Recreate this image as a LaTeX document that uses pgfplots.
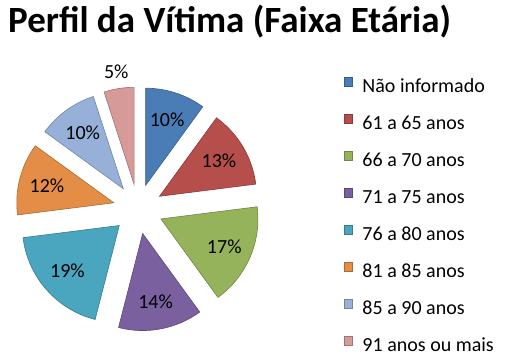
\documentclass[border=0pt]{standalone}
\usepackage{fontspec}
\setmainfont{Carlito}
\usepackage{pgfplots}
\usepackage{pgfplotstable}
\pgfplotsset{compat=1.18}
\definecolor{c0}{HTML}{4A7DB5}
\definecolor{c1}{HTML}{B64F4C}
\definecolor{c2}{HTML}{95B35A}
\definecolor{c3}{HTML}{7B60A0}
\definecolor{c4}{HTML}{4AA5BE}
\definecolor{c5}{HTML}{E48D46}
\definecolor{c6}{HTML}{97B0D8}
\definecolor{c7}{HTML}{D69A99}
\pgfplotstableread[col sep=comma]{
cat,pct,lr
Não informado,10,94
61 a 65 anos,13,94
66 a 70 anos,17,94
71 a 75 anos,14,94
76 a 80 anos,19,94
81 a 85 anos,12,94
85 a 90 anos,10,94
91 anos ou mais,5,139
}\piedata
\tikzset{lbl/.style={font=\fontsize{20bp}{24bp}\selectfont, inner sep=0pt}}
\begin{document}
\begin{tikzpicture}
\useasboundingbox (0,0) rectangle (510bp,360bp);
\begin{axis}[at={(0,0)}, anchor=south west, scale only axis,
  width=510bp, height=360bp, xmin=0, xmax=510, ymin=0, ymax=360,
  hide axis, clip=false,
  legend image code/.code={\draw[#1, line width=0.5bp] (0bp,1.5bp) rectangle (8.5bp,10bp);},
  legend style={at={(0.6745,0.7861)}, anchor=north west, draw=none, fill=none,
    inner sep=0pt, outer sep=0pt, row sep=17.8bp,
    font=\fontsize{20bp}{24bp}\selectfont,
    nodes={inner sep=0pt, text height=14bp, text depth=4bp},
    /tikz/every odd column/.append style={column sep=9.5bp}},
  legend cell align=left]
\addlegendimage{fill=c0, draw=c0!75!black}\addlegendentry{Não informado}
\addlegendimage{fill=c1, draw=c1!75!black}\addlegendentry{61 a 65 anos}
\addlegendimage{fill=c2, draw=c2!75!black}\addlegendentry{66 a 70 anos}
\addlegendimage{fill=c3, draw=c3!75!black}\addlegendentry{71 a 75 anos}
\addlegendimage{fill=c4, draw=c4!75!black}\addlegendentry{76 a 80 anos}
\addlegendimage{fill=c5, draw=c5!75!black}\addlegendentry{81 a 85 anos}
\addlegendimage{fill=c6, draw=c6!75!black}\addlegendentry{85 a 90 anos}
\addlegendimage{fill=c7, draw=c7!75!black}\addlegendentry{91 anos ou mais}
\xdef\cum{90}
\pgfplotsinvokeforeach{0,...,7}{%
  \pgfplotstablegetelem{#1}{pct}\of\piedata \let\p\pgfplotsretval
  \pgfplotstablegetelem{#1}{lr}\of\piedata \let\lr\pgfplotsretval
  \pgfmathsetmacro\a{\cum}
  \pgfmathsetmacro\b{\cum-3.6*\p}
  \pgfmathsetmacro\m{(\a+\b)/2}
  \pgfmathsetmacro\px{138+25*cos(\m)}
  \pgfmathsetmacro\py{151+25*sin(\m)}
  \pgfmathsetmacro\lx{138+\lr*cos(\m)}
  \pgfmathsetmacro\ly{151+\lr*sin(\m)}
  \xdef\cum{\b}
  \edef\tmp{\noexpand\filldraw[fill=c#1, draw=c#1!75!black, line width=0.6bp]
     (axis cs:\px,\py) -- ++(\a:97bp) arc[start angle=\a, end angle=\b, radius=97bp] -- cycle;
     \noexpand\node[lbl] at (axis cs:\lx,\ly) {\p\noexpand\%};}%
  \tmp
}
\end{axis}
\node[anchor=base west, inner sep=0pt, font=\fontsize{37bp}{41bp}\selectfont\bfseries]
  at (8bp,327bp) {Perfil da Vítima (Faixa Etária)};
\end{tikzpicture}
\end{document}
